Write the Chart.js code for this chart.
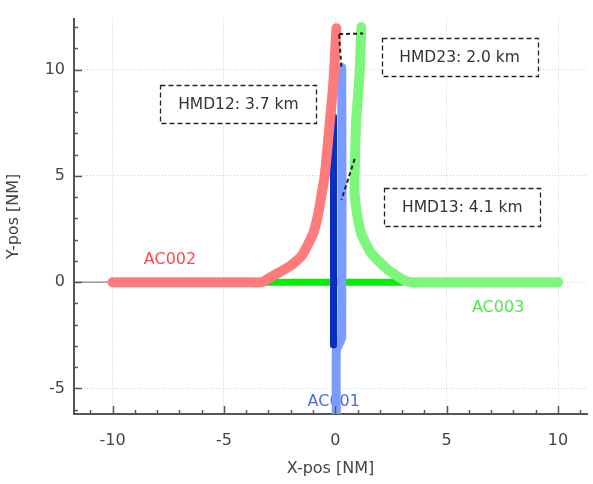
<!DOCTYPE html>
<html>
<head>
<meta charset="utf-8">
<title>Aircraft tracks</title>
<script src="https://cdn.jsdelivr.net/npm/chart.js@4.4.1/dist/chart.umd.min.js"></script>
<style>
    html, body { margin: 0; padding: 0; background: #fff; }
    #chartBox { width: 593px; height: 484px; }
</style>
</head>
<body>
<div id="chartBox"><canvas id="trackChart" width="593" height="484"></canvas></div>
<script>
// Track points (NM)
const ac002X = [-10, -4, -3.3, -2.8, -2.04, -1.5, -1.0, -0.77, -0.62, -0.47, -0.25, -0.1, -0.05, 0.05];
const ac002Y = [0, 0, 0, 0.3, 0.75, 1.25, 2.27, 3.19, 4.1, 5.04, 7.5, 9.18, 10, 11.95];

const ac003X = [10, 4, 3.42, 3.03, 2.37, 1.62, 1.17, 0.98, 0.87, 0.87, 0.93, 1.05, 1.1, 1.17];
const ac003Y = [0, 0, 0, 0.12, 0.58, 1.35, 2.27, 3.19, 4.1, 5.04, 7.5, 9.2, 10, 12.0];

// flown part of AC003 (bright green) and AC001 (dark blue)
const ac003FlownX = [-10, 3];
const ac003FlownY = [0, 0];
const ac001FlownX = [-0.08, -0.08];
const ac001FlownY = [7.8, -2.95];

const ac001X = [0.29, 0.29, 0.05, 0.05];
const ac001Y = [10.1, -2.6, -3.2, -6.6];

// short stub from the axis to the start of the tracks
const stubX = [-11.73, -10];
const stubY = [0, 0];

// horizontal miss distance segments
const hmd12X = [0.17, 0.28];
const hmd12Y = [11.64, 10.03];
const hmd23X = [0.17, 1.25];
const hmd23Y = [11.67, 11.7];
const hmd13X = [0.87, 0.28];
const hmd13Y = [5.8, 3.88];

const xTicks = [-10, -5, 0, 5, 10];
const yTicks = [-5, 0, 5, 10];

const trackNames = ['AC002', 'AC003', 'AC001'];
const hmdTexts = ['HMD12: 3.7 km', 'HMD23: 2.0 km', 'HMD13: 4.1 km'];

// where the texts sit, in axis units
const nameSpots = [
    { x: -7.42, y: 1.03, color: '#ff4a4a' },
    { x: 7.31, y: -1.21, color: '#4ee84e' },
    { x: -0.07, y: -5.65, color: '#4a6ee0' }
];
const boxSpots = [
    { x: -4.35, y: 8.4 },
    { x: 5.58, y: 10.61 },
    { x: 5.7, y: 3.56 }
];

function toPoints(xs, ys) {
    return xs.map((x, i) => ({ x: x, y: ys[i] }));
}

function track(points, color, width, order) {
    return {
        data: points,
        borderColor: color,
        borderWidth: width,
        borderCapStyle: 'round',
        borderJoinStyle: 'round',
        pointRadius: 0,
        tension: 0.15,
        fill: false,
        order: order
    };
}

function dashed(points) {
    return {
        data: points,
        borderColor: '#222',
        borderWidth: 2,
        borderDash: [4, 3],
        pointRadius: 0,
        fill: false,
        order: -1
    };
}

const FONT = '"DejaVu Sans", sans-serif';

// names under the tracks, ticks and dashed boxes on top
const overlayPlugin = {
    id: 'overlay',
    beforeDatasetsDraw(chart) {
        const { ctx, scales: { x, y } } = chart;
        ctx.save();
        ctx.font = '16px ' + FONT;
        ctx.textAlign = 'center';
        ctx.textBaseline = 'middle';
        trackNames.forEach((name, i) => {
            const s = nameSpots[i];
            ctx.fillStyle = s.color;
            ctx.fillText(name, x.getPixelForValue(s.x), y.getPixelForValue(s.y));
        });
        ctx.restore();
    },
    afterDraw(chart) {
        const { ctx, chartArea, scales: { x, y } } = chart;
        ctx.save();

        // inward ticks, every unit, longer on the labelled ones
        ctx.strokeStyle = '#555';
        ctx.lineWidth = 1.5;
        for (let v = Math.ceil(x.min); v <= Math.floor(x.max); v++) {
            const px = Math.round(x.getPixelForValue(v)) + 0.5;
            const len = v % 5 === 0 ? 8 : 4;
            ctx.beginPath();
            ctx.moveTo(px, chartArea.bottom);
            ctx.lineTo(px, chartArea.bottom - len);
            ctx.stroke();
        }
        for (let v = Math.ceil(y.min); v <= Math.floor(y.max); v++) {
            const py = Math.round(y.getPixelForValue(v)) + 0.5;
            const len = v % 5 === 0 ? 8 : 4;
            ctx.beginPath();
            ctx.moveTo(chartArea.left, py);
            ctx.lineTo(chartArea.left + len, py);
            ctx.stroke();
        }

        // HMD boxes
        const w = 156, h = 38;
        ctx.font = '15.5px ' + FONT;
        ctx.textAlign = 'center';
        ctx.textBaseline = 'middle';
        hmdTexts.forEach((text, i) => {
            const cx = x.getPixelForValue(boxSpots[i].x);
            const cy = y.getPixelForValue(boxSpots[i].y);
            const left = Math.round(cx - w / 2) + 0.5;
            const top = Math.round(cy - h / 2) + 0.5;
            ctx.fillStyle = '#fff';
            ctx.fillRect(left, top, w, h);
            ctx.setLineDash([5, 3]);
            ctx.strokeStyle = '#222';
            ctx.lineWidth = 1.3;
            ctx.strokeRect(left, top, w, h);
            ctx.setLineDash([]);
            ctx.fillStyle = '#333';
            ctx.fillText(text, cx, cy + 1);
        });
        ctx.restore();
    }
};

const ctx = document.getElementById('trackChart').getContext('2d');
new Chart(ctx, {
    type: 'line',
    data: {
        datasets: [
            dashed(toPoints(hmd12X, hmd12Y)),
            dashed(toPoints(hmd23X, hmd23Y)),
            dashed(toPoints(hmd13X, hmd13Y)),
            track(toPoints(ac002X, ac002Y), '#ff7a7a', 10, 0),
            track(toPoints(ac003X, ac003Y), '#7cf77c', 10, 1),
            track(toPoints(ac001FlownX, ac001FlownY), '#0a2fbf', 7, 2),
            track(toPoints(ac001X, ac001Y), '#7b9cff', 9, 3),
            track(toPoints(ac003FlownX, ac003FlownY), '#00f000', 7, 4),
            track(toPoints(stubX, stubY), '#888', 1.2, 5)
        ]
    },
    options: {
        responsive: false,
        animation: false,
        devicePixelRatio: 1,
        layout: { padding: { left: 0, right: 6, top: 10, bottom: 0 } },
        plugins: {
            legend: { display: false },
            tooltip: { enabled: false }
        },
        scales: {
            x: {
                type: 'linear',
                min: -11.73,
                max: 11.3,
                afterBuildTicks: (axis) => { axis.ticks = xTicks.map(v => ({ value: v })); },
                afterFit: (axis) => { axis.height = 70; },
                ticks: { color: '#444', font: { family: FONT, size: 16 }, padding: 17 },
                grid: { color: '#cfcfcf', lineWidth: 1, drawTicks: false },
                border: { display: true, color: '#555', width: 2, dash: [1, 2] },
                title: { display: true, text: 'X-pos [NM]', color: '#444', font: { family: FONT, size: 16 }, padding: { top: 0, bottom: 6 } }
            },
            y: {
                type: 'linear',
                min: -6.2,
                max: 12.4,
                afterBuildTicks: (axis) => { axis.ticks = yTicks.map(v => ({ value: v })); },
                afterFit: (axis) => { axis.width = 74; },
                ticks: { color: '#444', font: { family: FONT, size: 16 }, padding: 9 },
                grid: { color: '#cfcfcf', lineWidth: 1, drawTicks: false },
                border: { display: true, color: '#555', width: 2, dash: [1, 2] },
                title: { display: true, text: 'Y-pos [NM]', color: '#444', font: { family: FONT, size: 16 }, padding: { top: 4, bottom: 0 } }
            }
        }
    },
    plugins: [overlayPlugin]
});
</script>
</body>
</html>
